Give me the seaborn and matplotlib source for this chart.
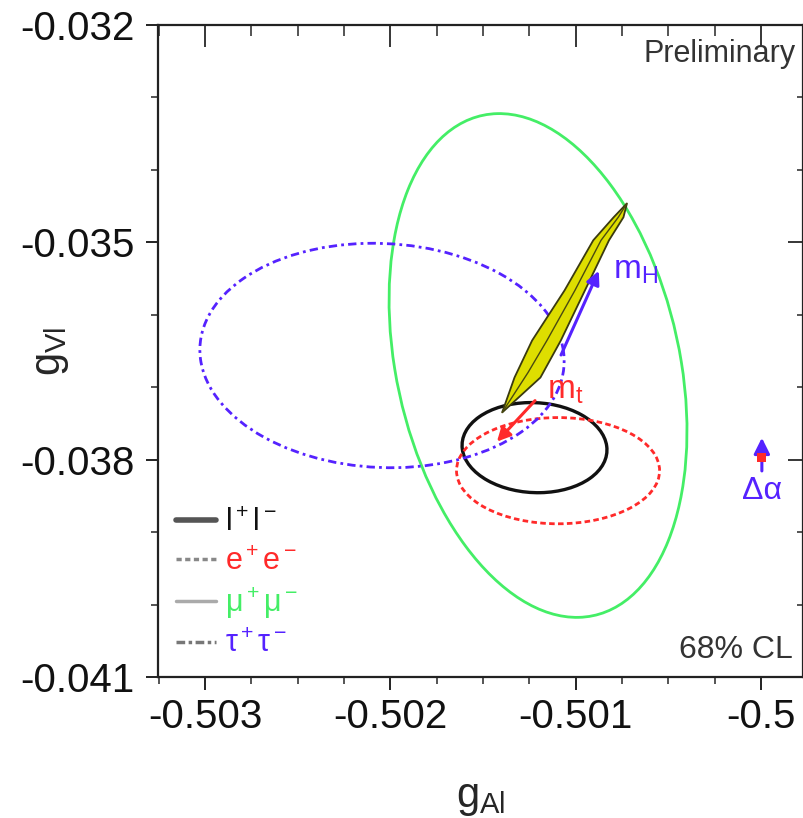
import numpy as np
import matplotlib
matplotlib.use("Agg")
import matplotlib.pyplot as plt
from matplotlib.patches import Ellipse
from matplotlib.lines import Line2D
from matplotlib.ticker import MultipleLocator
import seaborn as sns

# 68% CL contours: centres, half-widths and correlation per channel
channels = ["ll", "ee", "mumu", "tautau"]
g_al = [-0.501222, -0.501095, -0.501203, -0.502045]
g_vl = [-0.037834, -0.038152, -0.036700, -0.036562]
sig_al = [0.000391, 0.000548, 0.000804, 0.000983]
sig_vl = [0.000622, 0.000733, 0.003477, 0.001549]
rho = [-0.05, 0.0, -0.26, -0.05]
legend_labels = [r"$\mathregular{l^+l^-}$", r"$\mathregular{e^+e^-}$",
                 r"$\mathregular{\mu^+\mu^-}$", r"$\mathregular{\tau^+\tau^-}$"]

# SM prediction band outline
sm_y = [-0.037350, -0.036866, -0.036355, -0.035664, -0.034972, -0.034654, -0.034461]
sm_left_x = [-0.501397, -0.501330, -0.501235, -0.501060, -0.500905, -0.500795, -0.500723]
sm_right_x = [-0.501397, -0.501190, -0.501080, -0.500950, -0.500820, -0.500742, -0.500723]
sm_mid_x = [-0.501397, -0.501257, -0.501155, -0.501004, -0.500863, -0.500770, -0.500723]
sm_mid_y = [-0.037350, -0.036797, -0.036355, -0.035664, -0.034972, -0.034654, -0.034461]

# parameter arrows (start, end)
mh_arrow = [(-0.501085, -0.036590), (-0.500869, -0.035359)]
mt_arrow = [(-0.501209, -0.037157), (-0.501435, -0.037779)]
da_arrow = [(-0.499995, -0.038194), (-0.499995, -0.037660)]
da_point = [-0.499995, -0.037972]

x_ticks = [-0.503, -0.502, -0.501, -0.500]
x_tick_labels = ["-0.503", "-0.502", "-0.501", "-0.5"]
y_ticks = [-0.041, -0.038, -0.035, -0.032]
y_tick_labels = ["-0.041", "-0.038", "-0.035", "-0.032"]

sns.set_theme(style="ticks")
plt.rcParams["font.family"] = ["Liberation Sans", "DejaVu Sans"]
plt.rcParams["mathtext.fontset"] = "custom"
plt.rcParams["mathtext.rm"] = "Liberation Sans"
plt.rcParams["mathtext.it"] = "Liberation Sans:italic"
plt.rcParams["mathtext.bf"] = "Liberation Sans:bold"

colors = ["#111111", "#ff2a2a", "#44ee66", "#5522ff"]
styles = ["-", (0, (2, 1.2)), "-", (0, (3, 1.5, 1, 1.5))]
widths = [2.4, 2.0, 2.0, 2.0]
legend_styles = ["-", (0, (1.5, 1)), "-", (0, (2.5, 1, 1, 1))]
legend_colors = ["#555555", "#888888", "#aaaaaa", "#777777"]
legend_widths = [4.0, 2.5, 2.5, 2.5]

fig = plt.figure(figsize=(8.04, 8.18), dpi=100)
ax = fig.add_axes([158 / 804, 1 - 677 / 818, 645 / 804, 652 / 818])

# contours from covariance
for i in range(len(channels)):
    cov = np.array([[sig_al[i] ** 2, rho[i] * sig_al[i] * sig_vl[i]],
                    [rho[i] * sig_al[i] * sig_vl[i], sig_vl[i] ** 2]])
    vals, vecs = np.linalg.eigh(cov)
    ang = np.degrees(np.arctan2(vecs[1, 1], vecs[0, 1]))
    e = Ellipse((g_al[i], g_vl[i]), 2 * np.sqrt(vals[1]), 2 * np.sqrt(vals[0]),
                angle=ang, fill=False, edgecolor=colors[i],
                linestyle=styles[i], linewidth=widths[i], zorder=2)
    ax.add_patch(e)

# SM band
band_x = sm_left_x + sm_right_x[::-1]
band_y = sm_y + sm_y[::-1]
ax.fill(band_x, band_y, facecolor="#dede00", edgecolor="#3a3a10", linewidth=1.3, zorder=3)
sns.lineplot(x=sm_mid_x, y=sm_mid_y, sort=False, ax=ax, color="#4a4a10", linewidth=1.0, zorder=4)

# arrows
ax.annotate("", xy=mh_arrow[1], xytext=mh_arrow[0],
            arrowprops=dict(arrowstyle="-|>", color="#5522ff", lw=2.2, mutation_scale=20), zorder=5)
ax.annotate("", xy=mt_arrow[1], xytext=mt_arrow[0],
            arrowprops=dict(arrowstyle="-|>", color="#ff2a2a", lw=2.2, mutation_scale=20), zorder=5)
ax.annotate("", xy=da_arrow[1], xytext=da_arrow[0],
            arrowprops=dict(arrowstyle="-|>", color="#5522ff", lw=2.2, mutation_scale=24), zorder=5)
sns.scatterplot(x=[da_point[0]], y=[da_point[1]], ax=ax, color="#ff2a2a", s=40,
                marker="s", edgecolor="none", zorder=6)

ax.text(mh_arrow[1][0] + 0.00007, mh_arrow[1][1] - 0.00003, r"$\mathregular{m_H}$",
        color="#5522ff", fontsize=24, ha="left", va="center")
ax.text(-0.501155, -0.037046, r"$\mathregular{m_t}$", color="#ff2a2a",
        fontsize=24, ha="left", va="center")
ax.text(da_point[0], -0.038429, "Δα", color="#5522ff", fontsize=23,
        ha="center", va="center")

ax.text(0.988, 0.955, "Preliminary", transform=ax.transAxes, ha="right",
        va="center", fontsize=22, color="#333333")
ax.text(0.985, 0.041, "68% CL", transform=ax.transAxes, ha="right",
        va="center", fontsize=23, color="#333333")

handles = [Line2D([0], [0], color=legend_colors[i], linestyle=legend_styles[i],
                  linewidth=legend_widths[i]) for i in range(4)]
ax.legend(handles, legend_labels, loc="upper left", bbox_to_anchor=(0.028, 0.259),
          frameon=False, fontsize=22, labelcolor=colors, handlelength=1.3,
          handletextpad=0.3, labelspacing=0.28, borderpad=0, borderaxespad=0)

ax.set_xlim(-0.503254, -0.499773)
ax.set_ylim(-0.041, -0.032)
ax.set_xticks(x_ticks, x_tick_labels)
ax.set_yticks(y_ticks, y_tick_labels)
ax.xaxis.set_minor_locator(MultipleLocator(0.00025))
ax.yaxis.set_minor_locator(MultipleLocator(0.001))
ax.tick_params(axis="both", which="major", direction="out", length=9, width=1.3,
               labelsize=29, colors="#111111")
ax.tick_params(axis="both", which="minor", direction="out", length=5, width=1.1)
ax.tick_params(axis="x", which="major", pad=6)
ax.tick_params(axis="y", which="major", pad=8)

top = ax.secondary_xaxis("top")
top.set_xticks(x_ticks)
top.xaxis.set_minor_locator(MultipleLocator(0.00025))
top.tick_params(which="major", direction="in", length=16, width=1.3, labeltop=False)
top.tick_params(which="minor", direction="in", length=8, width=1.1)
right = ax.secondary_yaxis("right")
right.set_yticks(y_ticks)
right.yaxis.set_minor_locator(MultipleLocator(0.001))
right.tick_params(which="major", direction="in", length=11, width=1.3, labelright=False)
right.tick_params(which="minor", direction="in", length=4.5, width=1.1)

for sp in ax.spines.values():
    sp.set_linewidth(1.6)
    sp.set_color("#222222")

ax.set_xlabel(r"$\mathregular{g_{Al}}$", fontsize=30)
ax.set_ylabel(r"$\mathregular{g_{Vl}}$", fontsize=30)
ax.xaxis.set_label_coords(0.5, -0.155)
ax.yaxis.set_label_coords(-0.135, 0.5)

fig.savefig("out.png", dpi=100)
